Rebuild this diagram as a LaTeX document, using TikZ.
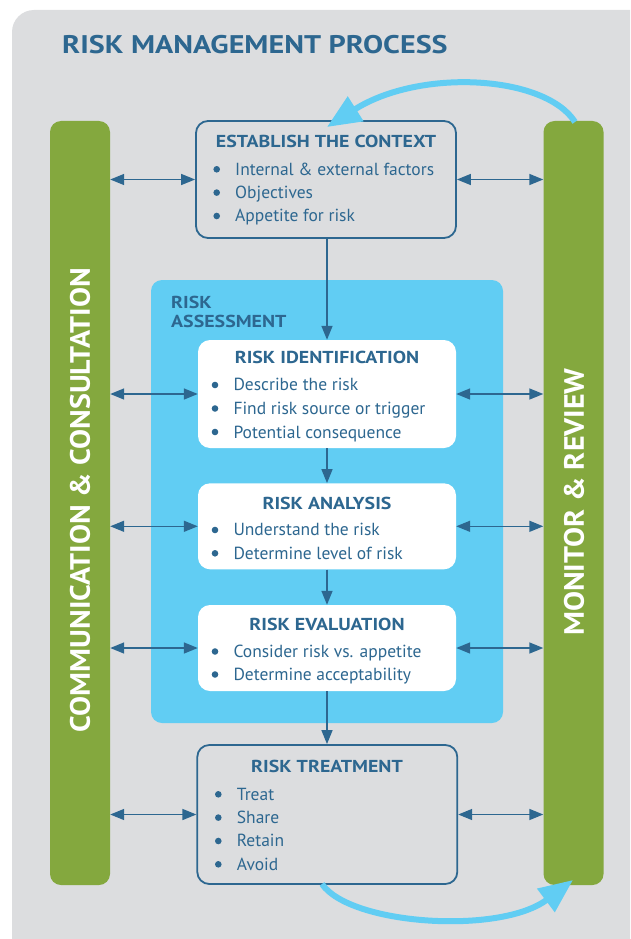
\documentclass[tikz,border=0pt]{standalone}
\usepackage{fontspec}
\setmainfont{PT Sans}
\newfontfamily\headwide{PT Sans}[FakeStretch=1.15]
\newfontfamily\titlewide{PT Sans}[FakeStretch=1.18]
\newfontfamily\barwide{PT Sans}[FakeStretch=1.07]
\usetikzlibrary{arrows.meta}
\definecolor{bgGray}{HTML}{DCDDDF}
\definecolor{dBlue}{HTML}{2D6790}
\definecolor{barGreen}{HTML}{84A83E}
\definecolor{skyBlue}{HTML}{61CDF3}
\tikzset{
  bar/.style={fill=barGreen, rounded corners=11pt, minimum width=60pt, minimum height=764pt, inner sep=0pt},
  bartext/.style={text=white, font=\barwide\fontsize{28}{30}\selectfont\bfseries, rotate=90, inner sep=0pt},
  outlinebox/.style={draw=dBlue, line width=1.8pt, fill=bgGray, rounded corners=12pt, inner sep=0pt},
  whitebox/.style={fill=white, rounded corners=12pt, inner sep=0pt},
  boxtitle/.style={text=dBlue, font=\headwide\fontsize{17.3}{19}\selectfont\bfseries, anchor=base, inner sep=0pt},
  paneltext/.style={text=dBlue, font=\headwide\fontsize{17.3}{19}\selectfont\bfseries, anchor=base west, inner sep=0pt},
  bullettext/.style={text=dBlue, font=\fontsize{17.5}{19}\selectfont, anchor=base west, inner sep=0pt},
  dot/.style={fill=dBlue},
  link/.style={draw=dBlue, line width=1.5pt, -{Triangle[length=14pt,width=11pt]}},
  twoway/.style={draw=dBlue, line width=1.5pt, {Triangle[length=14pt,width=11pt]}-{Triangle[length=14pt,width=11pt]}},
  loop/.style={draw=skyBlue, line width=6pt, -{Triangle[length=34pt,width=28pt]}}
}
\begin{document}
\begin{tikzpicture}[x=1pt,y=-1pt]
\useasboundingbox (0,0) rectangle (630,939);
\clip (0,0) rectangle (630,939);
\fill[bgGray, rounded corners=22pt] (12,10) rectangle (670,980);

% title
\node[text=dBlue, font=\titlewide\fontsize{25.5}{28}\selectfont\bfseries, anchor=base west, inner sep=0pt] (title) at (62,54) {RISK MANAGEMENT PROCESS};

% side bars
\node[bar] (lbar) at (80,503) {};
\node[bar] (rbar) at (573.5,503) {};
\node[bartext] (ltext) at (80,500) {COMMUNICATION \& CONSULTATION};
\node[bartext] (rtext) at (574,502) {MONITOR \& REVIEW};

% risk assessment panel
\node[fill=skyBlue, rounded corners=11pt, minimum width=352pt, minimum height=443pt, inner sep=0pt] (panel) at (327,501.5) {};
\node[paneltext] (pl1) at (171,308) {RISK};
\node[paneltext] (pl2) at (171,327) {ASSESSMENT};

% boxes
\node[outlinebox, minimum width=260pt, minimum height=117pt] (ctx) at (326,179.5) {};
\node[whitebox, minimum width=258pt, minimum height=108pt] (ident) at (327,394) {};
\node[whitebox, minimum width=258pt, minimum height=86pt] (anal) at (327,526.3) {};
\node[whitebox, minimum width=258pt, minimum height=86pt] (eval) at (327,648) {};
\node[outlinebox, minimum width=260pt, minimum height=139pt] (treat) at (327.3,814.5) {};

% context text
\node[boxtitle] (ctxT) at (326,147) {ESTABLISH THE CONTEXT};
\fill[dot] (216.7,169.3) circle (3.3);
\fill[dot] (216.7,192.6) circle (3.3);
\fill[dot] (216.7,216) circle (3.3);
\node[bullettext] (c1) at (235,175) {Internal \& external factors};
\node[bullettext] (c2) at (235,198.3) {Objectives};
\node[bullettext] (c3) at (235,221.6) {Appetite for risk};

% identification text
\node[boxtitle] (idT) at (327,363.3) {RISK IDENTIFICATION};
\fill[dot] (215,385) circle (3.3);
\fill[dot] (215,408.5) circle (3.3);
\fill[dot] (215,432) circle (3.3);
\node[bullettext] (i1) at (233.3,390.7) {Describe the risk};
\node[bullettext] (i2) at (233.3,414.5) {Find risk source or trigger};
\node[bullettext] (i3) at (233.3,438.3) {Potential consequence};

% analysis text
\node[boxtitle] (anT) at (327,509) {RISK ANALYSIS};
\fill[dot] (215,530) circle (3.3);
\fill[dot] (215,553.3) circle (3.3);
\node[bullettext] (a1) at (233.3,535.7) {Understand the risk};
\node[bullettext] (a2) at (233.3,559) {Determine level of risk};

% evaluation text
\node[boxtitle] (evT) at (327,630) {RISK EVALUATION};
\fill[dot] (215,651.5) circle (3.3);
\fill[dot] (215,674.5) circle (3.3);
\node[bullettext] (e1) at (233.3,657.3) {Consider risk vs. appetite};
\node[bullettext] (e2) at (233.3,680.3) {Determine acceptability};

% treatment text
\node[boxtitle] (trT) at (327,772.7) {RISK TREATMENT};
\fill[dot] (218.3,794.3) circle (3.3);
\fill[dot] (218.3,817.6) circle (3.3);
\fill[dot] (218.3,841) circle (3.3);
\fill[dot] (218.3,864.3) circle (3.3);
\node[bullettext] (t1) at (236.7,800) {Treat};
\node[bullettext] (t2) at (236.7,823.3) {Share};
\node[bullettext] (t3) at (236.7,846.7) {Retain};
\node[bullettext] (t4) at (236.7,870) {Avoid};

% vertical flow
\draw[link] (ctx.south -| ident.north) -- (ident.north);
\draw[link] (ident.south) -- (anal.north);
\draw[link] (anal.south) -- (eval.north);
\draw[link] (eval.south) -- (treat.north -| eval.south);

% two-way links
\foreach \b in {ctx,ident,anal,eval,treat}{
  \draw[twoway] (lbar.east |- \b.west) -- (\b.west);
  \draw[twoway] (\b.east) -- (rbar.west |- \b.east);
}

% loop arrows
\coordinate (topStart) at (575,122);
\coordinate (topTip) at (327,127);
\coordinate (botStart) at (322,884);
\coordinate (botTip) at (573,880);
\draw[loop] (topStart) .. controls (545,75) and (420,68) .. (topTip);
\draw[loop] (botStart) .. controls (350,925) and (500,935) .. (botTip);
\end{tikzpicture}
\end{document}
